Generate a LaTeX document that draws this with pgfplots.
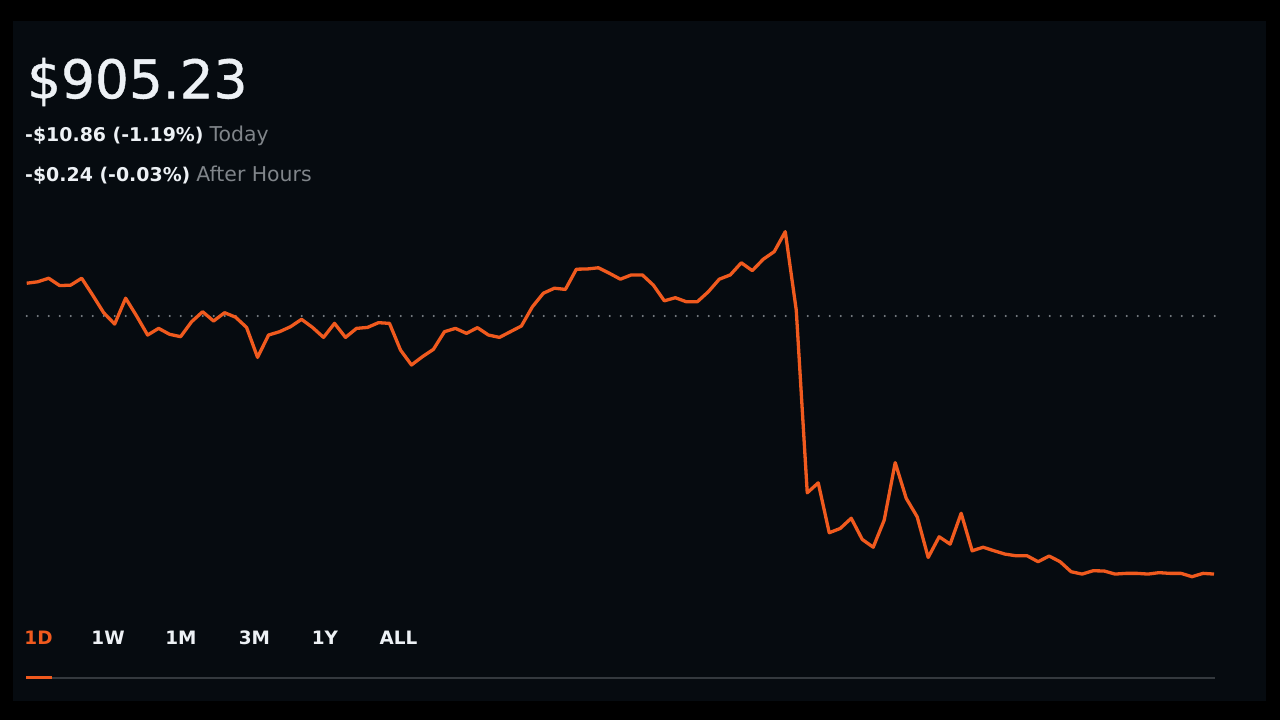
\documentclass[border=0pt]{standalone}
\usepackage{pgfplots}
\pgfplotsset{compat=1.18}
\usepackage{fontspec}
\setmainfont{DejaVu Sans}
\newfontfamily\pricefont[FakeBold=0.8]{DejaVu Sans}

\definecolor{panel}{RGB}{6,11,16}
\definecolor{txtwhite}{RGB}{237,241,245}
\definecolor{txtgrey}{RGB}{128,133,138}
\definecolor{dotgrey}{RGB}{125,131,137}
\definecolor{rulegrey}{RGB}{52,57,62}
\definecolor{rhorange}{RGB}{240,90,30}

\begin{document}
\begin{tikzpicture}
\begin{scope}[x=1bp,y=-1bp]
    \path[use as bounding box] (0,0) rectangle (1280,720);
    \fill[black] (0,0) rectangle (1280,720);
    \fill[panel] (13,21) rectangle (1266,701);

    % header
    \node[anchor=base west, inner sep=0pt, text=txtwhite,
          font=\pricefont\fontsize{53.5}{60}\selectfont] at (27,98.3) {\$905.23};
    \node[anchor=base west, inner sep=0pt, text=txtwhite,
          font=\fontsize{19}{22}\selectfont] at (25,142)
          {\textbf{-\$10.86 (-1.19\%)} {\fontsize{20.5}{22}\selectfont\textcolor{txtgrey}{Today}}};
    \node[anchor=base west, inner sep=0pt, text=txtwhite,
          font=\fontsize{19}{22}\selectfont] at (25,182)
          {\textbf{-\$0.24 (-0.03\%)} {\fontsize{20.5}{22}\selectfont\textcolor{txtgrey}{After Hours}}};

    % range tabs
    \begin{scope}[every node/.style={anchor=base, inner sep=0pt, text=txtwhite,
                  font=\fontsize{18.5}{22}\selectfont\bfseries}]
        \node[text=rhorange] at (38.5,644.3) {1D};
        \node at (108,644.3) {1W};
        \node at (181,644.3) {1M};
        \node at (254.5,644.3) {3M};
        \node at (325,644.3) {1Y};
        \node at (398.5,644.3) {ALL};
    \end{scope}
    \draw[rulegrey, line width=1.6] (52,677.7) -- (1215,677.7);
    \draw[rhorange, line width=3.2] (26,677.7) -- (52,677.7);
\end{scope}

\begin{axis}[
        at={(26.7bp,-603.3bp)}, anchor=south west,
        scale only axis,
        width=1187.3bp, height=380.2bp,
        xmin=0, xmax=108,
        ymin=904, ymax=920,
        hide axis,
        clip=false,
    ]
    % previous close
    \addplot[dotgrey, line width=2.2bp, line cap=round,
             dash pattern=on 0pt off 11bp, no markers]
        coordinates {(0,916.09) (108.1,916.09)};
    % price, one point per interval
    \addplot[rhorange, line width=3.3bp, line join=round, no markers]
        table[x=i, y=p] {
i   p
0   917.47
1   917.53
2   917.68
3   917.37
4   917.39
5   917.68
6   916.97
7   916.23
8   915.75
9   916.84
10  916.09
11  915.29
12  915.57
13  915.32
14  915.22
15  915.85
16  916.27
17  915.88
18  916.23
19  916.04
20  915.61
21  914.35
22  915.29
23  915.43
24  915.64
25  915.95
26  915.61
27  915.19
28  915.78
29  915.19
30  915.57
31  915.61
32  915.81
33  915.78
34  914.66
35  914.03
36  914.38
37  914.69
38  915.43
39  915.57
40  915.36
41  915.60
42  915.29
43  915.19
44  915.43
45  915.67
46  916.48
47  917.05
48  917.26
49  917.21
50  918.06
51  918.07
52  918.12
53  917.89
54  917.64
55  917.82
56  917.82
57  917.39
58  916.73
59  916.86
60  916.69
61  916.69
62  917.11
63  917.64
64  917.82
65  918.33
66  918.00
67  918.48
68  918.80
69  919.64
70  916.34
71  908.65
72  909.07
73  906.97
74  907.15
75  907.58
76  906.69
77  906.36
78  907.50
79  909.92
80  908.42
81  907.64
82  905.93
83  906.80
84  906.49
85  907.79
86  906.21
87  906.36
88  906.21
89  906.07
90  906.00
91  906.00
92  905.75
93  905.99
94  905.75
95  905.33
96  905.23
97  905.37
98  905.36
99  905.23
100 905.26
101 905.26
102 905.23
103 905.29
104 905.26
105 905.26
106 905.12
107 905.26
108 905.23
    };
\end{axis}
\end{tikzpicture}
\end{document}
